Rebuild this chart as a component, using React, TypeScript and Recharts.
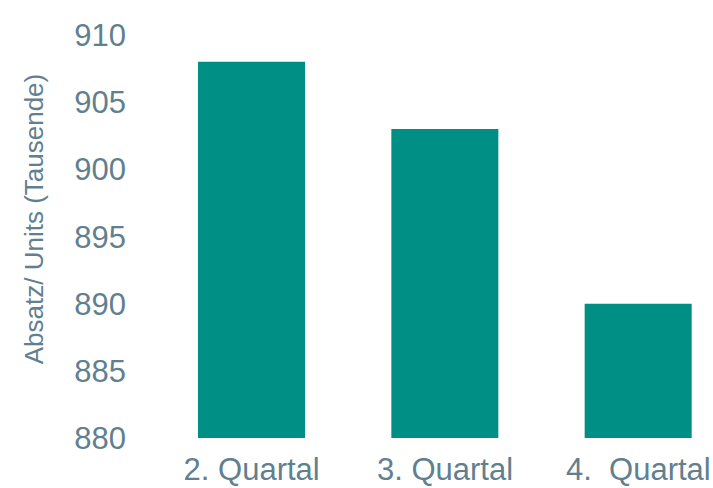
import React from "react";
import { BarChart, Bar, XAxis, YAxis } from "recharts";

const categories = ["2. Quartal", "3. Quartal", "4.\u00A0\u00A0Quartal"];
const units = [908, 903, 890];
const yTicks = [880, 885, 890, 895, 900, 905, 910];

const data = categories.map((c, i) => ({ name: c, value: units[i] }));

const TEXT = "#61808f";
const BAR = "#008f85";
const FONT = "'Liberation Sans', Arial, sans-serif";

const YLabel = () => (
  <text
    x={34}
    y={219}
    transform="rotate(-90 34 219)"
    textAnchor="middle"
    dominantBaseline="central"
    fill={TEXT}
    fontSize={26}
    fontFamily={FONT}
  >
    Absatz/ Units (Tausende)
  </text>
);

export default function App() {
  return (
    <div style={{ position: "absolute", left: 0, top: 0, width: 713, height: 488, overflow: "hidden", background: "#fff" }}>
      <BarChart
        width={735}
        height={488}
        data={data}
        margin={{ top: 35, right: 0, bottom: 0, left: 0 }}
      >
        <XAxis
          dataKey="name"
          axisLine={false}
          tickLine={false}
          tickSize={0}
          tickMargin={20}
          height={50}
          interval={0}
          tick={{ fill: TEXT, fontSize: 31, fontFamily: FONT }}
        />
        <YAxis
          domain={[880, 910]}
          ticks={yTicks}
          allowDataOverflow
          axisLine={false}
          tickLine={false}
          tickSize={0}
          tickMargin={29}
          width={155}
          tick={{ fill: TEXT, fontSize: 31, fontFamily: FONT }}
          label={<YLabel />}
        />
        <Bar dataKey="value" fill={BAR} barSize={107} isAnimationActive={false} />
      </BarChart>
    </div>
  );
}
